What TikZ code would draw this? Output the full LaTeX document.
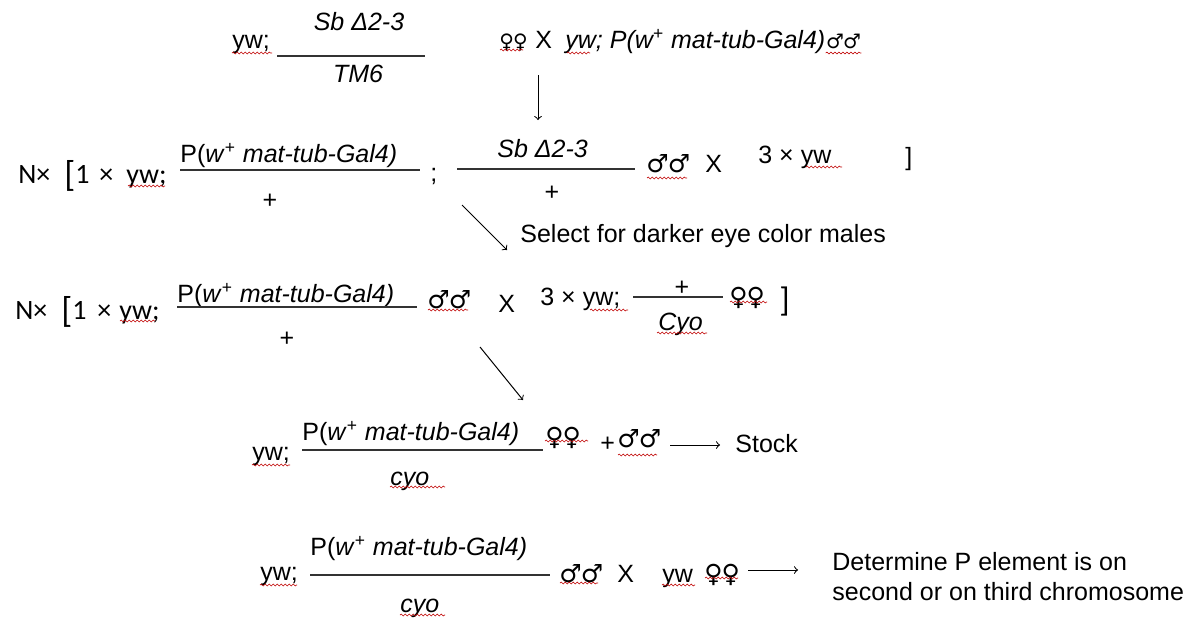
\documentclass[tikz,border=0pt]{standalone}
\usepackage{fontspec}
\setmainfont{Liberation Sans}
\newfontfamily\calfont{Carlito}
\newfontfamily\symfont{DejaVu Sans}
\usetikzlibrary{decorations.pathmorphing}

\newcommand{\ff}{{\symfont ♀\hspace{-0.5pt}♀}}
\newcommand{\mm}{{\symfont ♂\hspace{-0.5pt}♂}}

\tikzset{
  lbl/.style={anchor=base west, inner sep=0pt, font=\fontsize{12.5}{15}\selectfont},
  ctr/.style={lbl, anchor=base},
  sym/.style={lbl, font=\fontsize{12.5}{15}\selectfont},
  cal/.style={anchor=base west, inner sep=0pt, font=\calfont\fontsize{14}{17}\selectfont},
  bar/.style={line width=0.8pt, black!80},
  arr/.style={->, line width=0.5pt},
  spell/.style={red!75!black, line width=0.3pt, decorate,
    decoration={snake, amplitude=0.45pt, segment length=2pt}}
}

\begin{document}
\begin{tikzpicture}[x=0.5pt,y=-0.5pt]
\useasboundingbox (0,0) rectangle (1193,617);

% Parental cross
\node[lbl] (ywA) at (232,48) {yw;};
\node[ctr] (sbA) at (359,30) {\itshape Sb Δ2-3};
\node[ctr] (tmA) at (358,82) {\itshape TM6};
\draw[bar] (277,56) -- (425,56);
\node[sym, font=\fontsize{10}{12}\selectfont] (femA) at (499,48) {\ff};
\node[lbl] (xA) at (535,48) {X};
\node[lbl] (galA) at (565,48) {\itshape yw; P(w\textsuperscript{+} mat-tub-Gal4)};
\node[sym, font=\fontsize{10}{12}\selectfont] (maleA) at (galA.base east) {\mm};

% Jump-start males
\node[cal] (nB) at (18,183) {N×};
\node[cal, font=\calfont\fontsize{18}{20}\selectfont] (brB) at (64,186) {[};
\node[cal] (oneB) at (75,183) {1};
\node[cal] (tiB) at (99,183) {×};
\node[cal] (ywB) at (126,183) {yw;};
\node[lbl] (pB) at (180,162) {P(\textit{w}\textsuperscript{+} \textit{mat-tub-Gal4)}};
\draw[bar] (180,170) -- (420,170);
\node[ctr] (plB) at (270,208) {+};
\node[lbl] (scB) at (430,181) {;};
\node[lbl] (sbB) at (497,157) {\itshape Sb Δ2-3};
\draw[bar] (457,169) -- (635,169);
\node[ctr] (plC) at (552,200) {+};
\node[sym] (maleB) at (646,172) {\mm};
\node[lbl] (xB) at (705,172) {X};
\node[lbl] (yw3B) at (758,163) {3 × yw};
\node[lbl] (ebB) at (905,165) {]};
\node[lbl] (selB) at (520,242) {Select for darker eye color males};

% Single males to balancer females
\node[cal] (nC) at (15,319) {N×};
\node[cal, font=\calfont\fontsize{18}{20}\selectfont] (brC) at (61,322) {[};
\node[cal] (oneC) at (72,319) {1};
\node[cal] (tiC) at (97,319) {×};
\node[cal] (ywC) at (119,319) {yw;};
\node[lbl] (pC) at (177,302) {P(\textit{w}\textsuperscript{+} \textit{mat-tub-Gal4)}};
\draw[bar] (177,307) -- (417,307);
\node[ctr] (plD) at (287,346) {+};
\node[sym] (maleC) at (427,308) {\mm};
\node[lbl] (xC) at (498,312) {X};
\node[lbl] (yw3C) at (540,305) {3 × yw;};
\draw[bar] (633,297) -- (723,297);
\node[ctr] (plE) at (682,295) {+};
\node[lbl] (cyC) at (658,330) {\itshape Cyo};
\node[sym] (femC) at (729,305) {\ff};
\node[cal, font=\calfont\fontsize{17}{20}\selectfont] (ebC) at (779,311) {]};

% Balanced stock
\node[lbl] (ywD) at (252,460) {yw;};
\node[lbl] (pD) at (302,440) {P(\textit{w}\textsuperscript{+} \textit{mat-tub-Gal4)}};
\draw[bar] (302,450) -- (543,450);
\node[lbl] (cyD) at (390,485) {\itshape cyo};
\node[sym] (femD) at (545,445) {\ff};
\node[lbl] (plF) at (600,451) {+};
\node[sym] (maleD) at (617,447) {\mm};
\node[lbl] (stock) at (735,452) {Stock};

% Mapping cross
\node[lbl] (ywE) at (260,580) {yw;};
\node[lbl] (pE) at (310,555) {P(\textit{w}\textsuperscript{+} \textit{mat-tub-Gal4)}};
\draw[bar] (310,575) -- (550,575);
\node[lbl] (cyE) at (400,612) {\itshape cyo};
\node[sym] (maleE) at (559,582) {\mm};
\node[lbl] (xE) at (617,582) {X};
\node[lbl] (ywF) at (662,582) {yw};
\node[sym] (femE) at (704,582) {\ff};
\node[lbl] (detA) at (832,570) {Determine P element is on};
\node[lbl] (detB) at (832,600) {second or on third chromosome};

% Arrows
\coordinate (a1s) at (538,75);  \coordinate (a1e) at (538,120);
\coordinate (a2s) at (462,205); \coordinate (a2e) at (507,250);
\coordinate (a3s) at (480,347); \coordinate (a3e) at (523,400);
\coordinate (a4s) at (670,445); \coordinate (a4e) at (720,445);
\coordinate (a5s) at (748,570); \coordinate (a5e) at (798,570);
\foreach \s/\e in {a1s/a1e, a2s/a2e, a3s/a3e, a4s/a4e, a5s/a5e}
  \draw[arr] (\s) -- (\e);

% Spell-check marks
\draw[spell] ([yshift=-2.5pt]maleA.base west) -- ([yshift=-2.5pt]maleA.base east);
\foreach \xa/\xb/\yy in {232/272/53, 500/523/50, 567/590/53,
    128/165/186, 647/687/178, 806/842/167,
    120/155/321, 428/468/310, 590/628/310, 657/707/333, 730/767/302,
    252/290/465, 390/445/487, 545/588/441, 618/657/455,
    260/297/585, 400/445/615, 560/598/583, 662/695/585, 705/738/578}
  \draw[spell] (\xa,\yy) -- (\xb,\yy);

\end{tikzpicture}
\end{document}
